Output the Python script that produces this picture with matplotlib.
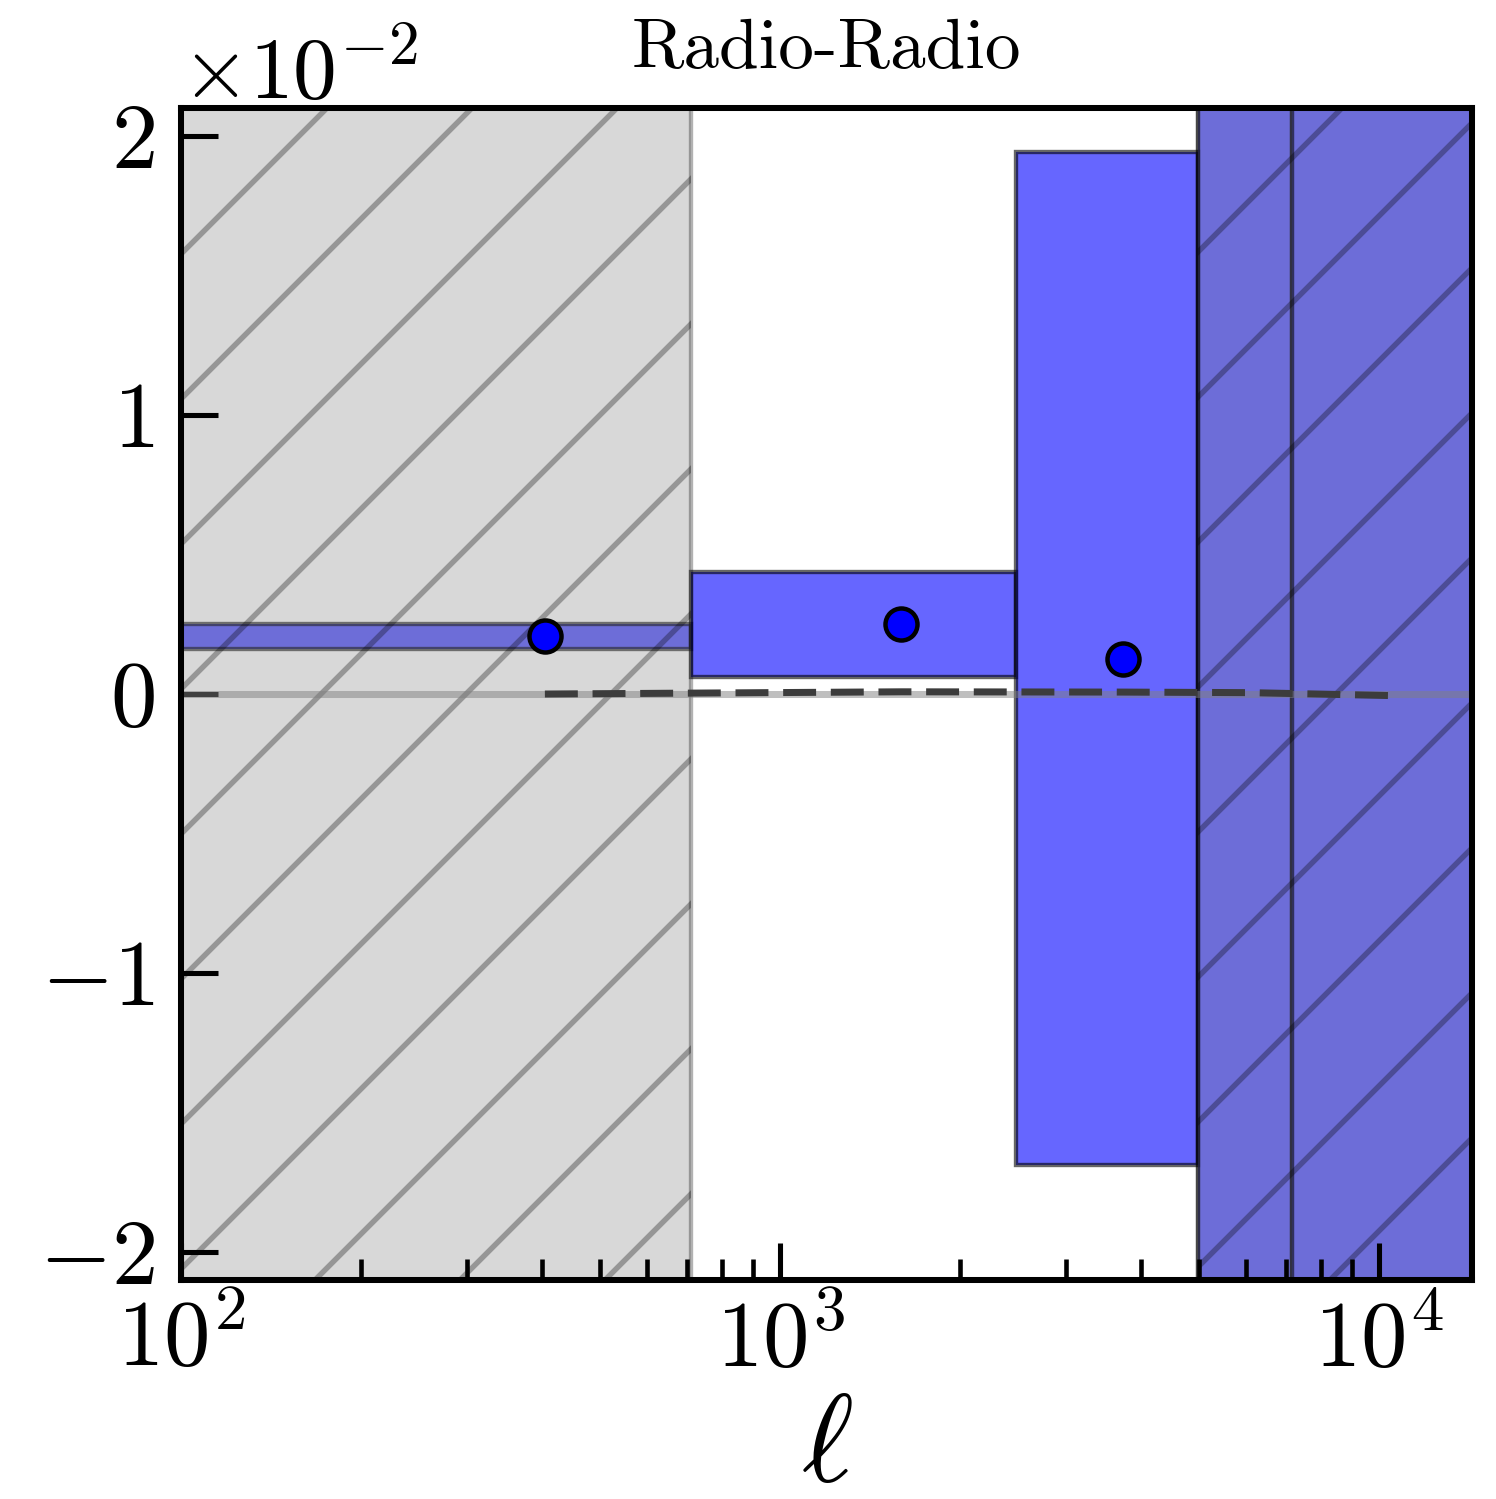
import numpy as np
import matplotlib
matplotlib.use("Agg")
import matplotlib.pyplot as plt
from matplotlib.patches import Rectangle
from matplotlib.ticker import LogLocator, NullFormatter, FixedLocator, ScalarFormatter

# Multipole bins (edges), measured band powers and their 1-sigma errors
bin_edges = [100, 710, 2480, 4990, 7170, 14300]
cl_measured = [0.00207, 0.00250, 0.00127, 0.030, -0.050]
cl_error = [0.00045, 0.00188, 0.01815, 0.060, 0.200]
# Model prediction evaluated at the bin centres
cl_model = [0.0, 0.00008, 0.00007, 0.00005, -0.00006]
# Multipole ranges excluded from the analysis
excluded_ranges = [(100, 710), (4990, 14300)]
y_ticks = [-0.02, -0.01, 0.0, 0.01, 0.02]

title_text = "Radio-Radio"
x_label = r"$\ell$"

DPI = 870
plt.rcParams.update({
    "font.family": "serif",
    "font.serif": ["cmr10"],
    "mathtext.fontset": "cm",
    "axes.formatter.use_mathtext": True,
    "axes.unicode_minus": True,
    "hatch.linewidth": 0.45,
    "hatch.color": "k",
})

fig = plt.figure(figsize=(1496 / DPI, 1499 / DPI), dpi=DPI)
ax = fig.add_axes([0.1210, 0.1461, 0.8630, 0.7818])
ax.set_xscale("log")

edges = np.array(bin_edges, dtype=float)
centres = 0.5 * (edges[:-1] + edges[1:])

# Error boxes for each bin
for lo, hi, val, err in zip(edges[:-1], edges[1:], cl_measured, cl_error):
    ax.add_patch(Rectangle((lo, val - err), hi - lo, 2 * err,
                           facecolor="blue", edgecolor="k", alpha=0.6,
                           lw=0.36, zorder=1.0))

# Shaded, hatched scale cuts
for lo, hi in excluded_ranges:
    ax.axvspan(lo, hi, facecolor="gray", edgecolor="k", alpha=0.3,
               hatch="//", lw=0.36, zorder=1.5)

ax.axhline(0.0, color="gray", alpha=0.5, lw=0.58, zorder=2.0)
ax.plot(centres, cl_model, color="#3c3c3c", lw=0.58, ls=(0, (4.7, 2.1)),
        zorder=2.2)
ax.plot(centres, cl_measured, "o", ms=2.65, mfc="blue", mec="k", mew=0.37,
        zorder=3)

ax.set_xlim(bin_edges[0], bin_edges[-1])
ax.set_ylim(-0.021, 0.021)
ax.yaxis.set_major_locator(FixedLocator(y_ticks))
fmt = ScalarFormatter(useMathText=True)
fmt.set_powerlimits((0, 0))
ax.yaxis.set_major_formatter(fmt)
ax.xaxis.set_major_locator(LogLocator(base=10, numticks=10))
ax.xaxis.set_minor_locator(LogLocator(base=10, subs=np.arange(2, 10), numticks=20))
ax.xaxis.set_minor_formatter(NullFormatter())

for s in ax.spines.values():
    s.set_linewidth(0.5)
ax.tick_params(which="both", direction="in", top=False, right=False)
ax.tick_params(which="major", length=3.06, width=0.42, labelsize=7.7)
ax.tick_params(which="minor", length=1.74, width=0.38)
ax.tick_params(axis="x", which="major", pad=1.5)
ax.tick_params(axis="y", which="major", pad=2.2)
ax.yaxis.get_offset_text().set_fontsize(7.25)
ax.yaxis.OFFSETTEXTPAD = 0.8

ax.set_title(title_text, fontsize=5.9, pad=3.3)
ax.set_xlabel(x_label, fontsize=10.3, labelpad=0.8)

fig.savefig("out.png", dpi=DPI)
